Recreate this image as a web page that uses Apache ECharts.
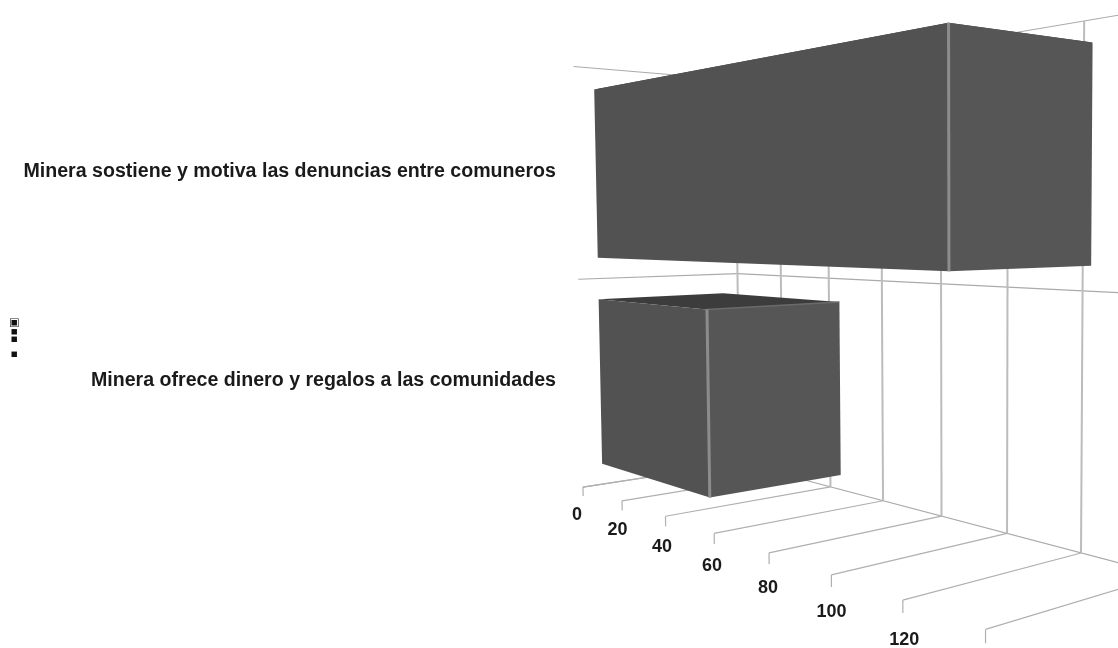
<!DOCTYPE html>
<html>
<head>
<meta charset="utf-8">
<style>html,body{margin:0;padding:0;background:#fff}#chart{width:1118px;height:648px;filter:blur(0.45px)}</style>
<script src="https://cdn.jsdelivr.net/npm/echarts@6/dist/echarts.min.js"></script>
</head>
<body>
<div id="chart"></div>
<script>
var categories = ['Minera ofrece dinero y regalos a las comunidades', 'Minera sostiene y motiva las denuncias entre comuneros'];
var barValues = [50, 126];
var valueTicks = [0, 20, 40, 60, 80, 100, 120, 140];
var wallLevels = [0, 1, 2];

// camera: screen = (O + f*V + k*H + d*D) / w, f = value fraction, k = height fraction, d = depth fraction
var O = [740, 463, 1];
var V = [47.6, -74.2, -0.324];
var H = [-20.7, -384.7, -0.0212];
var D = [-208.7, -19.1, -0.0886];

var fontName = '"Liberation Sans", Arial, sans-serif';

function project(f, k, d) {
    var w = O[2] + f * V[2] + k * H[2] + d * D[2];
    return [
        (O[0] + f * V[0] + k * H[0] + d * D[0]) / w,
        (O[1] + f * V[1] + k * H[1] + d * D[1]) / w
    ];
}
// value -> fraction of the value axis
function valueFrac(params, api, v) {
    return (api.coord([v, 0])[0] - params.coordSys.x) / params.coordSys.width;
}
// category index (may be fractional) -> fraction of the height axis
function heightFrac(params, api, c) {
    var band = api.size([0, 1])[1];
    var p0 = api.coord([0, 0])[1];
    return (params.coordSys.y + params.coordSys.height - (p0 - c * band)) / params.coordSys.height;
}
function seg(a, b, color, width) {
    return {
        type: 'line',
        shape: { x1: a[0], y1: a[1], x2: b[0], y2: b[1] },
        style: { stroke: color, lineWidth: width }
    };
}
function face(pts, color) {
    return { type: 'polygon', shape: { points: pts }, style: { fill: color } };
}

function renderTick(params, api) {
    var v = api.value(0);
    var f = valueFrac(params, api, v);
    var k0 = heightFrac(params, api, -0.5);
    var k1 = heightFrac(params, api, 1.5);
    var kick = 0.022;
    var lab = project(f, k0 - 0.07, 1);
    return {
        type: 'group',
        children: [
            seg(project(f, k0, 0), project(f, k1, 0), '#bcbcbc', 2),
            seg(project(f, k0, 0), project(f, k0, 1), '#b0b0b0', 1.2),
            seg(project(f, k0, 1), project(f, k0 - kick, 1), '#b0b0b0', 1.2),
            {
                type: 'text',
                x: lab[0] - 6.5 + 9 * f,
                y: lab[1] - 1,
                style: {
                    text: String(v),
                    font: 'bold 18px ' + fontName,
                    fill: '#1a1a1a',
                    align: 'center',
                    verticalAlign: 'middle'
                }
            }
        ]
    };
}

function renderWall(params, api) {
    var k = heightFrac(params, api, api.value(0) - 0.5);
    var corner = project(0, k, 0);
    return {
        type: 'group',
        children: [
            seg(project(0, k, 1), corner, '#aaaaaa', 1.2),
            seg(corner, project(1, k, 0), '#aaaaaa', 1.2)
        ]
    };
}

function renderBar(params, api) {
    var c = api.value(1);
    var f = valueFrac(params, api, api.value(0));
    var k0 = heightFrac(params, api, c - 0.4);
    var k1 = heightFrac(params, api, c + 0.4);
    var dn = 0.885, df = 0.1;
    var nearTop = project(f, k1, dn);
    var nearBot = project(f, k0, dn);
    var backTop = project(f, k1, df);
    var labX = project(0, heightFrac(params, api, 0), 1.146)[0];
    var labK = 0.5 + (heightFrac(params, api, c) - 0.5) * 0.98;
    var labY = project(0, labK, 1.146)[1] - 3;
    var children = [
        face([project(0, k1, dn), nearTop, backTop, project(0, k1, df)], '#3c3c3c'),
        face([project(0, k1, dn), nearTop, nearBot, project(0, k0, dn)], '#525252'),
        face([nearTop, backTop, project(f, k0, df), nearBot], '#565656')
    ];
    // top face only shows when it lies below eye level
    if (project(0, k1, df)[1] < project(0, k1, dn)[1]) {
        children.push(seg(nearTop, backTop, '#6a6a6a', 1.5));
    }
    children.push(seg(nearTop, nearBot, '#8c8c8c', 3));
    children.push({
        type: 'text',
        x: labX + 1,
        y: labY,
        style: {
            text: categories[c],
            font: 'bold 19.6px ' + fontName,
            fill: '#1a1a1a',
            align: 'right',
            verticalAlign: 'middle'
        }
    });
    return { type: 'group', children: children };
}

var myChart = echarts.init(document.getElementById('chart'));

var option = {
    animation: false,
    backgroundColor: '#fff',
    grid: { left: 0, right: 0, top: 0, bottom: 0 },
    xAxis: { type: 'value', min: 0, max: 140, show: false },
    yAxis: { type: 'category', data: categories, show: false },
    graphic: [{
        type: 'text',
        x: 8.5,
        y: 358,
        rotation: Math.PI / 2,
        style: {
            text: '\u25AA  \u25AA\u25AA\u25A3',
            font: 'bold 11px "DejaVu Sans"',
            fill: '#111'
        }
    }],
    series: [
        {
            type: 'custom',
            clip: false,
            renderItem: renderWall,
            data: wallLevels.map(function (l) { return [l]; }),
            encode: { x: 0 },
            z: 1
        },
        {
            type: 'custom',
            clip: false,
            renderItem: renderTick,
            data: valueTicks.map(function (v) { return [v]; }),
            encode: { x: 0 },
            z: 2
        },
        {
            type: 'custom',
            clip: false,
            renderItem: renderBar,
            data: barValues.map(function (v, i) { return [v, i]; }),
            encode: { x: 0, y: 1 },
            z: 3
        }
    ]
};

myChart.setOption(option);
</script>
</body>
</html>
